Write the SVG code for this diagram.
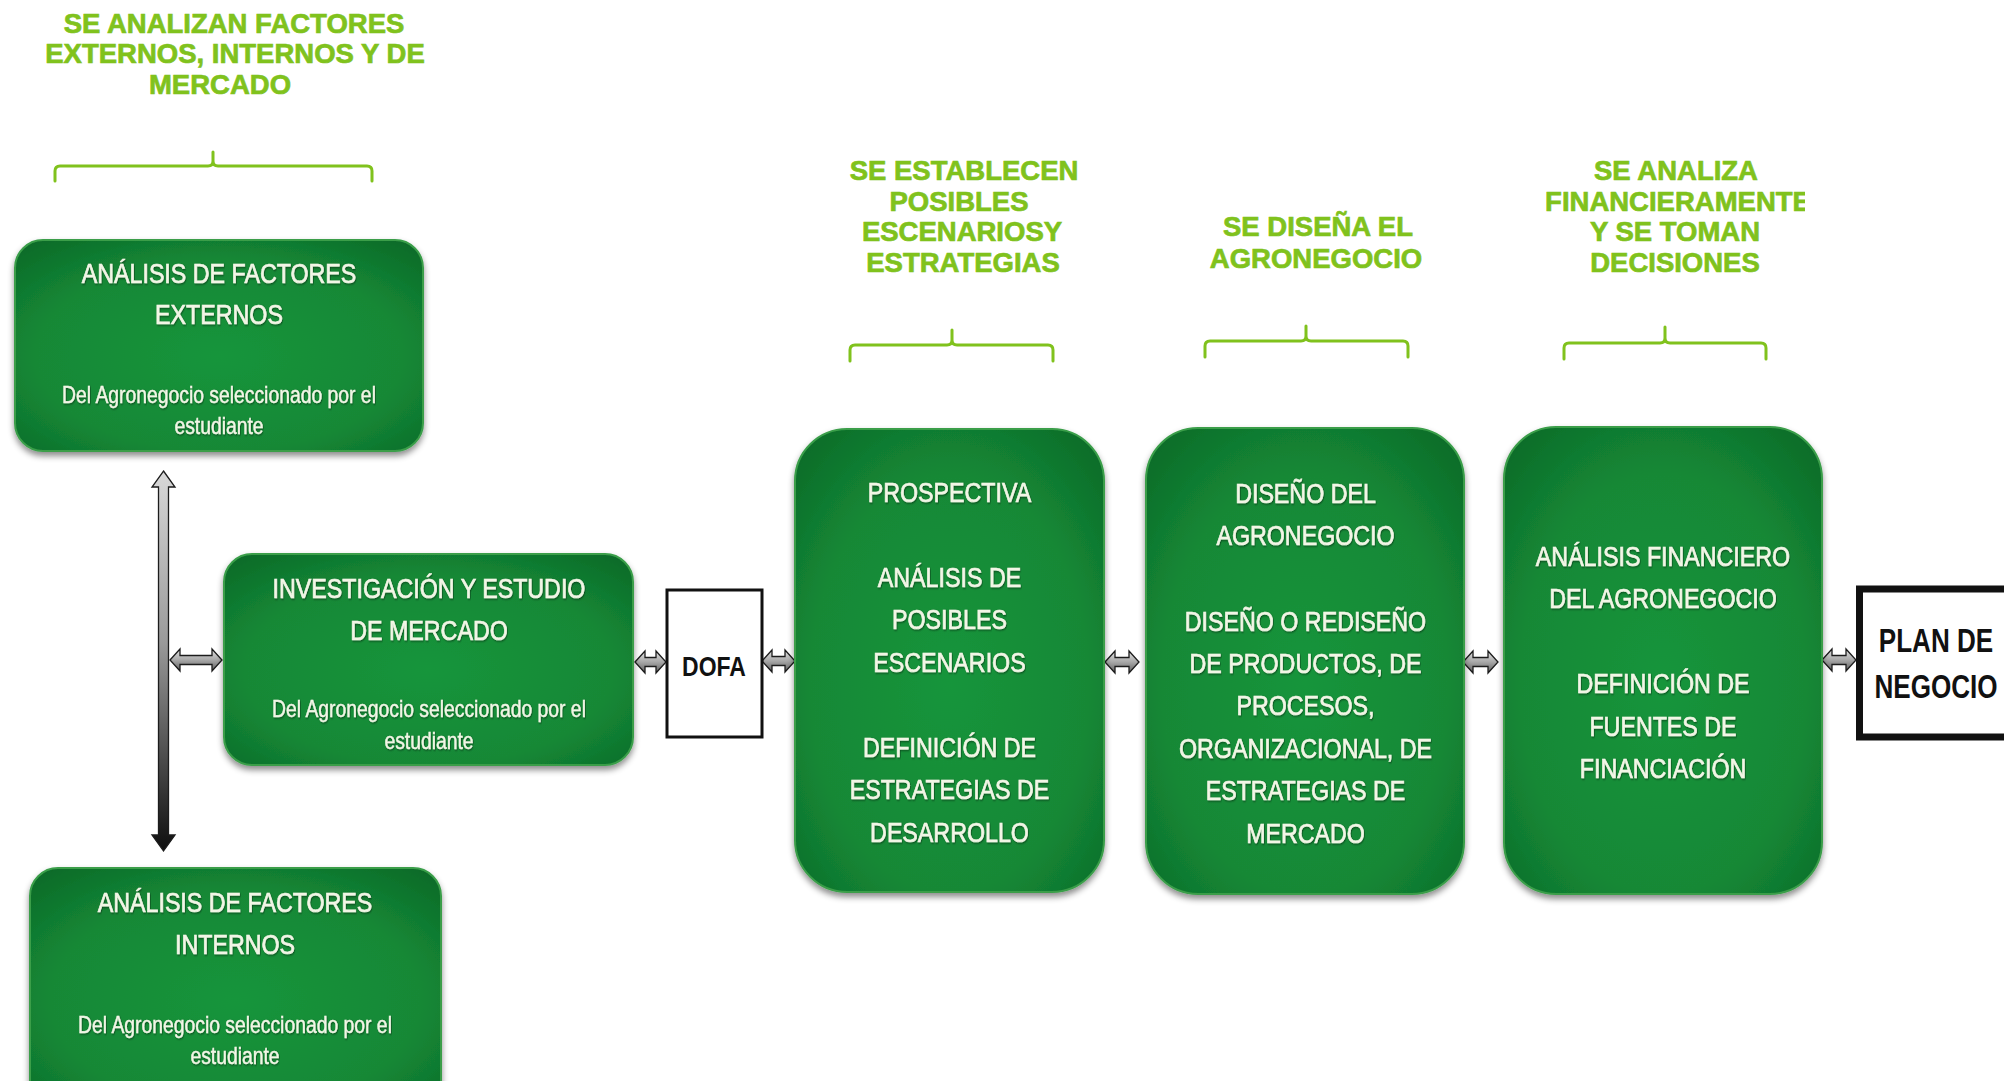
<svg xmlns="http://www.w3.org/2000/svg" width="2004" height="1081" viewBox="0 0 2004 1081">
<style>
.title{font-family:"Liberation Sans",Arial,sans-serif;font-weight:bold;font-size:27.5px;fill:#80c21d;stroke:#80c21d;stroke-width:0.7;text-anchor:middle}
.brace{fill:none;stroke:#80c21d;stroke-width:3;stroke-linejoin:round;stroke-linecap:round}
.gbox{fill:url(#gfill);stroke:#3a9e4a;stroke-width:2;filter:url(#shadow)}
.hd{font-family:"Liberation Sans",Arial,sans-serif;font-size:28px;fill:#f2f6e6;stroke:#f2f6e6;stroke-width:0.7;text-anchor:middle;filter:url(#tshadow)}
.sub{font-family:"Liberation Sans",Arial,sans-serif;font-size:23.3px;fill:#f2f6e6;stroke:#f2f6e6;stroke-width:0.4;text-anchor:middle;filter:url(#tshadow)}
.bk{font-family:"Liberation Sans",Arial,sans-serif;font-weight:bold;fill:#111;text-anchor:middle}
.arr{fill:url(#agrad);stroke:#1c1c1c;stroke-width:1.3;stroke-linejoin:miter}
</style>
<defs>
<radialGradient id="gfill" cx="50%" cy="55%" r="75%">
<stop offset="0" stop-color="#18953b"/>
<stop offset="0.6" stop-color="#148836"/>
<stop offset="1" stop-color="#0b6626"/>
</radialGradient>
<linearGradient id="agrad" x1="0" y1="0" x2="0" y2="1">
<stop offset="0" stop-color="#e2e2e2"/>
<stop offset="0.5" stop-color="#a8a8a8"/>
<stop offset="1" stop-color="#5e5e5e"/>
</linearGradient>
<linearGradient id="vgrad" x1="0" y1="0" x2="0" y2="1">
<stop offset="0" stop-color="#d8d8d8"/>
<stop offset="0.45" stop-color="#9a9a9a"/>
<stop offset="1" stop-color="#0e0e0e"/>
</linearGradient>
<filter id="shadow" x="-10%" y="-10%" width="120%" height="125%">
<feDropShadow dx="0" dy="4" stdDeviation="3" flood-color="#000" flood-opacity="0.45"/>
</filter>
<filter id="tshadow" x="-5%" y="-30%" width="110%" height="160%">
<feDropShadow dx="0.8" dy="1" stdDeviation="0.8" flood-color="#000" flood-opacity="0.5"/>
</filter>
<clipPath id="clip4"><rect x="1500" y="140" width="305" height="150"/></clipPath>
</defs>
<rect width="2004" height="1081" fill="#fff"/>

<g id="titles">
<g id="title-externos">
<text class="title" x="234" y="32.5">SE ANALIZAN FACTORES</text>
<text class="title" x="235" y="63">EXTERNOS, INTERNOS Y DE</text>
<text class="title" x="220" y="94">MERCADO</text>
<path class="brace" d="M55,181 V171 Q55,166 60,166 H208 Q213,166 213,161 V152 M213,161 Q213,166 218,166 H367 Q372,166 372,171 V181"/>
</g>
<g id="title-escenarios">
<text class="title" x="964" y="180">SE ESTABLECEN</text>
<text class="title" x="959" y="210.5">POSIBLES</text>
<text class="title" x="962" y="241">ESCENARIOSY</text>
<text class="title" x="963" y="271.5">ESTRATEGIAS</text>
<path class="brace" d="M850,361 V350 Q850,345 855,345 H947 Q952,345 952,340 V330 M952,340 Q952,345 957,345 H1048 Q1053,345 1053,350 V361"/>
</g>
<g id="title-diseno">
<text class="title" x="1318" y="236">SE DISEÑA EL</text>
<text class="title" x="1316" y="268">AGRONEGOCIO</text>
<path class="brace" d="M1205,357 V346 Q1205,341 1210,341 H1301 Q1306,341 1306,336 V326 M1306,336 Q1306,341 1311,341 H1403 Q1408,341 1408,346 V357"/>
</g>
<g id="title-financiero">
<text class="title" x="1676" y="180">SE ANALIZA</text>
<text class="title" x="1678" y="210.5" clip-path="url(#clip4)">FINANCIERAMENTE</text>
<text class="title" x="1675" y="241">Y SE TOMAN</text>
<text class="title" x="1675" y="271.5">DECISIONES</text>
<path class="brace" d="M1564,359 V348 Q1564,343 1569,343 H1660 Q1665,343 1665,338 V327 M1665,338 Q1665,343 1670,343 H1761 Q1766,343 1766,348 V359"/>
</g>
</g>

<g id="connectors">
<path class="arr" style="fill:url(#vgrad)" d="M163.5,471 L175,487 L168.5,487 L168.5,835 L175,835 L163.5,851 L152,835 L158.5,835 L158.5,487 L152,487 Z"/>
<path class="arr" d="M170,660 L180,649 L180,655.5 L212,655.5 L212,649 L222,660 L212,671 L212,664.5 L180,664.5 L180,671 Z"/>
<path class="arr" d="M635,662 L645,651 L645,657.5 L656,657.5 L656,651 L666,662 L656,673 L656,666.5 L645,666.5 L645,673 Z"/>
<path class="arr" d="M762,661 L772,650 L772,656.5 L785,656.5 L785,650 L795,661 L785,672 L785,665.5 L772,665.5 L772,672 Z"/>
<path class="arr" d="M1105,662 L1115,651 L1115,657.5 L1129,657.5 L1129,651 L1139,662 L1129,673 L1129,666.5 L1115,666.5 L1115,673 Z"/>
<path class="arr" d="M1463,662 L1473,651 L1473,657.5 L1488,657.5 L1488,651 L1498,662 L1488,673 L1488,666.5 L1473,666.5 L1473,673 Z"/>
<path class="arr" d="M1822,660 L1832,649 L1832,655.5 L1846,655.5 L1846,649 L1856,660 L1846,671 L1846,664.5 L1832,664.5 L1832,671 Z"/>
</g>

<g id="node-externos">
<rect class="gbox" x="15" y="240" width="408" height="211" rx="28"/>
<g transform="translate(219 0) scale(0.83 1)">
<text class="hd" x="0" y="283.5">ANÁLISIS DE FACTORES</text>
<text class="hd" x="0" y="324.5">EXTERNOS</text>
<text class="sub" x="0" y="403">Del Agronegocio seleccionado por el</text>
<text class="sub" x="0" y="434">estudiante</text>
</g>
</g>

<g id="node-mercado">
<rect class="gbox" x="224" y="554" width="409" height="211" rx="28"/>
<g transform="translate(429 0) scale(0.83 1)">
<text class="hd" x="0" y="598">INVESTIGACIÓN Y ESTUDIO</text>
<text class="hd" x="0" y="640">DE MERCADO</text>
<text class="sub" x="0" y="717">Del Agronegocio seleccionado por el</text>
<text class="sub" x="0" y="749">estudiante</text>
</g>
</g>

<g id="node-internos">
<rect class="gbox" x="30" y="868" width="411" height="240" rx="28"/>
<g transform="translate(235 0) scale(0.83 1)">
<text class="hd" x="0" y="912">ANÁLISIS DE FACTORES</text>
<text class="hd" x="0" y="954">INTERNOS</text>
<text class="sub" x="0" y="1033">Del Agronegocio seleccionado por el</text>
<text class="sub" x="0" y="1064">estudiante</text>
</g>
</g>

<g id="node-dofa">
<rect x="667" y="590" width="95" height="147" fill="#fff" stroke="#111" stroke-width="3"/>
<g transform="translate(714 0) scale(0.82 1)">
<text class="bk" x="0" y="676" font-size="28">DOFA</text>
</g>
</g>

<g id="node-prospectiva">
<rect class="gbox" x="795" y="429" width="309" height="463" rx="52"/>
<g transform="translate(949.5 0) scale(0.83 1)">
<text class="hd" x="0" y="502">PROSPECTIVA</text>
<text class="hd" x="0" y="587">ANÁLISIS DE</text>
<text class="hd" x="0" y="629.5">POSIBLES</text>
<text class="hd" x="0" y="672">ESCENARIOS</text>
<text class="hd" x="0" y="757">DEFINICIÓN DE</text>
<text class="hd" x="0" y="799.5">ESTRATEGIAS DE</text>
<text class="hd" x="0" y="842">DESARROLLO</text>
</g>
</g>

<g id="node-diseno">
<rect class="gbox" x="1146" y="428" width="318" height="466" rx="52"/>
<g transform="translate(1305.5 0) scale(0.83 1)">
<text class="hd" x="0" y="503">DISEÑO DEL</text>
<text class="hd" x="0" y="545">AGRONEGOCIO</text>
<text class="hd" x="0" y="631">DISEÑO O REDISEÑO</text>
<text class="hd" x="0" y="673">DE PRODUCTOS, DE</text>
<text class="hd" x="0" y="715">PROCESOS,</text>
<text class="hd" x="0" y="758">ORGANIZACIONAL, DE</text>
<text class="hd" x="0" y="800">ESTRATEGIAS DE</text>
<text class="hd" x="0" y="843">MERCADO</text>
</g>
</g>

<g id="node-financiero">
<rect class="gbox" x="1504" y="427" width="318" height="467" rx="52"/>
<g transform="translate(1663 0) scale(0.83 1)">
<text class="hd" x="0" y="566">ANÁLISIS FINANCIERO</text>
<text class="hd" x="0" y="608.5">DEL AGRONEGOCIO</text>
<text class="hd" x="0" y="693.5">DEFINICIÓN DE</text>
<text class="hd" x="0" y="736">FUENTES DE</text>
<text class="hd" x="0" y="778.5">FINANCIACIÓN</text>
</g>
</g>

<g id="node-plan">
<rect x="1859.5" y="589" width="160" height="148" fill="#fff" stroke="#111" stroke-width="7"/>
<g transform="translate(1936 0) scale(0.79 1)">
<text class="bk" x="0" y="652" font-size="33">PLAN DE</text>
<text class="bk" x="0" y="698" font-size="33">NEGOCIO</text>
</g>
</g>
</svg>
